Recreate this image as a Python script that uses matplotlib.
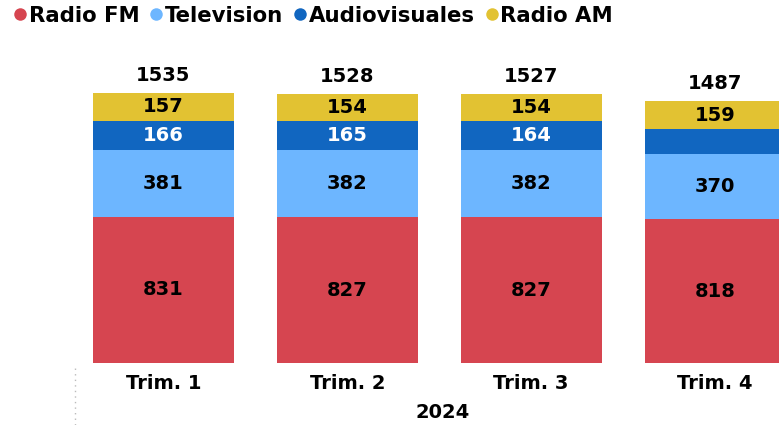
import matplotlib.pyplot as plt
from matplotlib.lines import Line2D
import numpy as np

plt.rcParams['font.family'] = ['DejaVu Sans']

# Data
quarters = ["Trim. 1", "Trim. 2", "Trim. 3", "Trim. 4"]
radio_fm = [831, 827, 827, 818]
television = [381, 382, 382, 370]
audiovisuales = [166, 165, 164, 140]
radio_am = [157, 154, 154, 159]
totals = [1535, 1528, 1527, 1487]
show_av_label = [True, True, True, False]

series = [
    ("Radio FM", radio_fm, "#D64550", "black"),
    ("Television", television, "#6DB6FF", "black"),
    ("Audiovisuales", audiovisuales, "#1166C0", "white"),
    ("Radio AM", radio_am, "#E2C232", "black"),
]

fs = 14

fig = plt.figure(figsize=(7.79, 4.25), dpi=100)
ax = fig.add_axes([75 / 779, 1 - 363 / 425, 1 - 75 / 779, (363 - 50) / 425])

x = np.arange(len(quarters))
width = 0.766
bottom = np.zeros(len(quarters))
for name, vals, color, tcolor in series:
    vals = np.array(vals, dtype=float)
    ax.bar(x, vals, width, bottom=bottom, color=color, edgecolor='none')
    for i, v in enumerate(vals):
        if name == "Audiovisuales" and not show_av_label[i]:
            continue
        ax.text(x[i], bottom[i] + v / 2, f"{int(v)}", ha='center', va='center',
                fontsize=fs, fontweight='bold', color=tcolor)
    bottom += vals

for i, t in enumerate(totals):
    ax.text(x[i], bottom[i] + 45, str(t), ha='center', va='bottom',
            fontsize=fs, fontweight='bold', color='black')

ax.set_xlim(-0.481, 3.348)
ax.set_ylim(0, 1779)
ax.set_xticks(x)
ax.set_xticklabels(quarters, fontsize=fs, fontweight='bold')
ax.tick_params(axis='x', length=0, pad=8)
ax.set_yticks([])
for s in ax.spines.values():
    s.set_visible(False)

# Year label under the quarters
fig.text(443 / 779, 1 - 412 / 425, "2024", ha='center', va='center',
         fontsize=fs, fontweight='bold')

# dotted separator at left
fig.add_artist(Line2D([75 / 779, 75 / 779], [0.0, 1 - 366 / 425],
                      color='#BBBBBB', linestyle=(0, (1, 3)), linewidth=1))

handles = [Line2D([], [], marker='o', linestyle='none', markersize=9,
                  markerfacecolor=c, markeredgecolor='none') for _, _, c, _ in series]
fig.legend(handles, [s[0] for s in series], loc='upper left',
           bbox_to_anchor=(-0.007, 1.022), ncol=4, frameon=False,
           prop={'weight': 'bold', 'size': 15.3}, handletextpad=-0.1,
           columnspacing=0.3, handlelength=1.0, borderaxespad=0.3)

fig.savefig("out.png", dpi=100)
